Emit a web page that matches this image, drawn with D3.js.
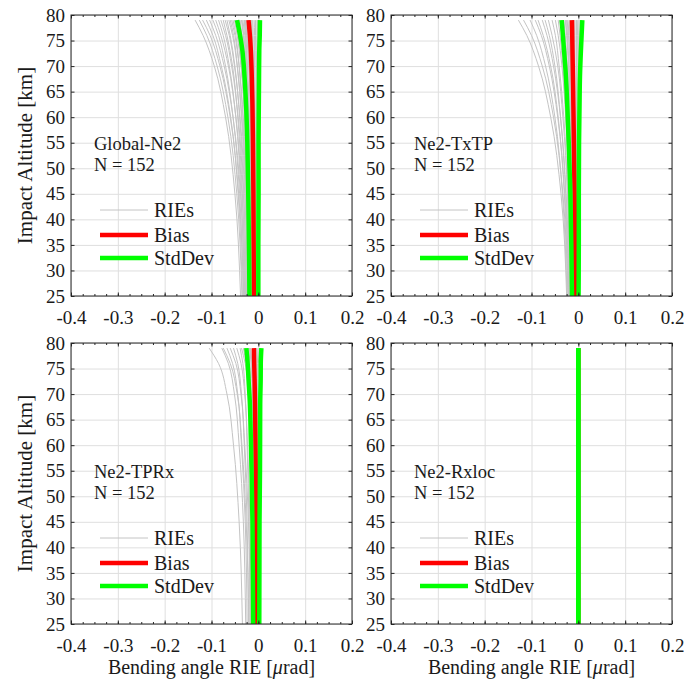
<!DOCTYPE html>
<html>
<head>
<meta charset="utf-8">
<script src="https://cdn.jsdelivr.net/npm/d3@7"></script>
<style>
  body { margin: 0; background: #fff; }
  svg text { font-family: "Liberation Serif", "Times New Roman", serif; fill: #1a1a1a; }
</style>
</head>
<body>
<svg id="fig" width="684" height="683"></svg>
<script>
// ---- axis ticks ----
const xTicks = [-0.4, -0.3, -0.2, -0.1, 0, 0.1, 0.2];
const yTicks = [25, 30, 35, 40, 45, 50, 55, 60, 65, 70, 75, 80];

// ---- altitude levels (km) of the stored profiles ----
const rieAlt = [25, 45, 60, 70, 76, 79];
const statAlt = [25, 35, 45, 55, 62, 68, 73, 76, 79];

// ---- panel titles and sample counts ----
const panelNames = ["Global-Ne2", "Ne2-TxTP", "Ne2-TPRx", "Ne2-Rxloc"];
const sampleCounts = [152, 152, 152, 152];

// ---- individual RIE profiles (µrad), one row per profile, at rieAlt ----
const riesGlobal = [
  [-0.038, -0.050, -0.070, -0.094, -0.118, -0.135],
  [-0.035, -0.046, -0.065, -0.088, -0.110, -0.126],
  [-0.031, -0.042, -0.060, -0.082, -0.103, -0.119],
  [-0.034, -0.043, -0.059, -0.079, -0.097, -0.111],
  [-0.029, -0.038, -0.054, -0.073, -0.091, -0.104],
  [-0.032, -0.040, -0.054, -0.070, -0.085, -0.097],
  [-0.027, -0.035, -0.048, -0.064, -0.080, -0.091],
  [-0.030, -0.037, -0.048, -0.062, -0.075, -0.085],
  [-0.025, -0.032, -0.043, -0.057, -0.070, -0.080],
  [-0.028, -0.034, -0.044, -0.055, -0.067, -0.075],
  [-0.023, -0.029, -0.039, -0.051, -0.062, -0.071],
  [-0.026, -0.031, -0.040, -0.050, -0.060, -0.067],
  [-0.021, -0.026, -0.035, -0.045, -0.055, -0.063],
  [-0.024, -0.028, -0.036, -0.045, -0.053, -0.060],
  [-0.019, -0.024, -0.032, -0.041, -0.050, -0.057],
  [-0.022, -0.026, -0.033, -0.041, -0.048, -0.054],
  [-0.018, -0.022, -0.029, -0.037, -0.045, -0.051],
  [-0.020, -0.023, -0.029, -0.036, -0.043, -0.048],
  [-0.016, -0.020, -0.026, -0.033, -0.041, -0.046],
  [-0.019, -0.022, -0.027, -0.034, -0.040, -0.044],
  [-0.020, -0.023, -0.029, -0.036, -0.042, -0.047],
  [-0.017, -0.020, -0.025, -0.032, -0.038, -0.042],
  [-0.017, -0.020, -0.025, -0.030, -0.036, -0.040],
  [-0.014, -0.017, -0.022, -0.029, -0.035, -0.039],
  [-0.016, -0.018, -0.023, -0.028, -0.032, -0.036],
  [-0.012, -0.015, -0.020, -0.025, -0.031, -0.035],
  [-0.013, -0.015, -0.020, -0.025, -0.029, -0.033],
  [-0.014, -0.016, -0.019, -0.023, -0.027, -0.030],
  [-0.015, -0.017, -0.020, -0.024, -0.027, -0.030],
  [-0.010, -0.012, -0.016, -0.020, -0.025, -0.028],
  [-0.011, -0.013, -0.016, -0.020, -0.024, -0.027],
  [-0.013, -0.014, -0.017, -0.019, -0.022, -0.024],
  [-0.009, -0.010, -0.013, -0.016, -0.019, -0.021],
  [-0.008, -0.009, -0.012, -0.014, -0.017, -0.019],
  [-0.011, -0.012, -0.013, -0.015, -0.017, -0.018],
  [-0.007, -0.008, -0.010, -0.012, -0.014, -0.015],
  [-0.006, -0.007, -0.009, -0.011, -0.013, -0.014],
  [-0.009, -0.009, -0.010, -0.011, -0.011, -0.012],
  [-0.006, -0.006, -0.007, -0.008, -0.008, -0.009],
  [-0.008, -0.008, -0.007, -0.007, -0.006, -0.006],
  [-0.005, -0.005, -0.004, -0.004, -0.003, -0.003],
  [-0.003, -0.003, -0.003, -0.002, -0.002, -0.001],
  [-0.006, -0.005, -0.004, -0.003, -0.001, 0.000],
  [-0.004, -0.003, -0.002, 0.000, 0.002, 0.003]
];
const riesTxTP = [
  [-0.025, -0.037, -0.059, -0.085, -0.110, -0.128],
  [-0.022, -0.033, -0.053, -0.077, -0.100, -0.117],
  [-0.024, -0.034, -0.050, -0.070, -0.089, -0.103],
  [-0.020, -0.029, -0.044, -0.062, -0.079, -0.092],
  [-0.022, -0.030, -0.043, -0.059, -0.075, -0.086],
  [-0.019, -0.026, -0.038, -0.053, -0.067, -0.077],
  [-0.021, -0.027, -0.038, -0.050, -0.062, -0.071],
  [-0.017, -0.023, -0.033, -0.044, -0.056, -0.064],
  [-0.019, -0.023, -0.031, -0.041, -0.049, -0.056],
  [-0.016, -0.020, -0.027, -0.035, -0.043, -0.049],
  [-0.018, -0.021, -0.026, -0.033, -0.039, -0.043],
  [-0.014, -0.017, -0.023, -0.029, -0.035, -0.040],
  [-0.016, -0.019, -0.023, -0.028, -0.033, -0.037],
  [-0.015, -0.017, -0.021, -0.026, -0.031, -0.035],
  [-0.013, -0.016, -0.020, -0.025, -0.030, -0.034],
  [-0.012, -0.014, -0.019, -0.024, -0.029, -0.033],
  [-0.015, -0.017, -0.020, -0.024, -0.028, -0.031],
  [-0.012, -0.014, -0.017, -0.021, -0.025, -0.028],
  [-0.011, -0.013, -0.016, -0.020, -0.024, -0.027],
  [-0.013, -0.014, -0.017, -0.020, -0.023, -0.025],
  [-0.009, -0.011, -0.014, -0.017, -0.021, -0.024],
  [-0.010, -0.011, -0.014, -0.017, -0.020, -0.022],
  [-0.011, -0.012, -0.014, -0.016, -0.018, -0.019],
  [-0.008, -0.009, -0.011, -0.013, -0.015, -0.016],
  [-0.010, -0.010, -0.011, -0.012, -0.012, -0.013],
  [-0.006, -0.007, -0.008, -0.010, -0.011, -0.012],
  [-0.007, -0.007, -0.008, -0.009, -0.009, -0.010],
  [-0.008, -0.008, -0.008, -0.007, -0.007, -0.007],
  [-0.005, -0.005, -0.005, -0.004, -0.004, -0.004],
  [-0.004, -0.004, -0.004, -0.003, -0.003, -0.003],
  [-0.006, -0.005, -0.004, -0.003, -0.002, -0.001],
  [-0.003, -0.002, -0.001, 0.000, 0.001, 0.002],
  [-0.004, -0.003, -0.001, 0.001, 0.003, 0.005],
  [-0.002, -0.001, 0.001, 0.003, 0.005, 0.007]
];
const riesTPRx = [
  [-0.034, -0.041, -0.053, -0.067, -0.085, -0.105],
  [-0.027, -0.032, -0.041, -0.051, -0.064, -0.078],
  [-0.020, -0.026, -0.035, -0.045, -0.060, -0.075],
  [-0.024, -0.028, -0.036, -0.044, -0.055, -0.067],
  [-0.017, -0.021, -0.029, -0.037, -0.048, -0.060],
  [-0.021, -0.024, -0.030, -0.036, -0.044, -0.053],
  [-0.015, -0.018, -0.023, -0.029, -0.037, -0.046],
  [-0.018, -0.020, -0.024, -0.028, -0.033, -0.039],
  [-0.009, -0.012, -0.016, -0.021, -0.028, -0.036],
  [-0.012, -0.014, -0.017, -0.021, -0.026, -0.032],
  [-0.013, -0.014, -0.016, -0.019, -0.023, -0.030],
  [-0.014, -0.015, -0.018, -0.020, -0.024, -0.028],
  [-0.011, -0.012, -0.015, -0.018, -0.022, -0.027],
  [-0.010, -0.011, -0.014, -0.016, -0.020, -0.024],
  [-0.012, -0.013, -0.014, -0.016, -0.018, -0.020],
  [-0.007, -0.008, -0.010, -0.012, -0.015, -0.019],
  [-0.003, -0.005, -0.007, -0.010, -0.014, -0.018],
  [-0.009, -0.010, -0.011, -0.013, -0.015, -0.017],
  [-0.008, -0.009, -0.010, -0.012, -0.014, -0.016],
  [-0.010, -0.010, -0.011, -0.011, -0.011, -0.012],
  [-0.005, -0.005, -0.006, -0.007, -0.009, -0.011],
  [-0.006, -0.006, -0.007, -0.007, -0.007, -0.008],
  [-0.007, -0.007, -0.006, -0.006, -0.005, -0.004],
  [-0.004, -0.004, -0.003, -0.003, -0.002, -0.001],
  [-0.005, -0.004, -0.003, -0.002, 0.000, 0.002],
  [-0.002, -0.001, 0.000, 0.001, 0.003, 0.005]
];
const riesRxloc = [
  [0, 0, 0, 0, 0, 0]
];

// ---- bias and standard deviation (µrad) at statAlt ----
const biasGlobal = [-0.0095, -0.0100, -0.0105, -0.0115, -0.0125, -0.0140, -0.0160, -0.0180, -0.0210];
const stdGlobal  = [ 0.0095,  0.0100,  0.0110,  0.0120,  0.0135,  0.0155,  0.0180,  0.0210,  0.0245];
const biasTxTP   = [-0.0065, -0.0070, -0.0080, -0.0095, -0.0105, -0.0115, -0.0125, -0.0130, -0.0135];
const stdTxTP    = [ 0.0070,  0.0080,  0.0090,  0.0110,  0.0130,  0.0150,  0.0180,  0.0200,  0.0220];
const biasTPRx   = [-0.0045, -0.0047, -0.0050, -0.0055, -0.0062, -0.0070, -0.0080, -0.0088, -0.0095];
const stdTPRx    = [ 0.0065,  0.0070,  0.0075,  0.0090,  0.0100,  0.0110,  0.0130,  0.0140,  0.0160];
const biasRxloc  = [0, 0, 0, 0, 0, 0, 0, 0, 0];
const stdRxloc   = [0, 0, 0, 0, 0, 0, 0, 0, 0];

const panels = [
  { name: panelNames[0], n: sampleCounts[0], ries: riesGlobal, bias: biasGlobal, std: stdGlobal },
  { name: panelNames[1], n: sampleCounts[1], ries: riesTxTP,   bias: biasTxTP,   std: stdTxTP },
  { name: panelNames[2], n: sampleCounts[2], ries: riesTPRx,   bias: biasTPRx,   std: stdTPRx },
  { name: panelNames[3], n: sampleCounts[3], ries: riesRxloc,  bias: biasRxloc,  std: stdRxloc }
];

// ---- layout ----
const FONT = '"Liberation Serif", "Times New Roman", serif';
const W = 281, H = 281;
const origins = [[71, 15], [391, 15], [71, 343], [391, 343]];
const axisColor = "#262626";
const textColor = "#1a1a1a";
const gridColor = "#dfdfdf";
const rieColor = "#c4c4c4";
const biasColor = "#ff0000";
const stdColor = "#00ff00";
const thick = 4.5;

const x = d3.scaleLinear().domain([-0.4, 0.2]).range([0, W]);
const y = d3.scaleLinear().domain([25, 80]).range([H, 0]);
const minorX = d3.range(-0.4, 0.2001, 0.025).map(v => +v.toFixed(3));

const profile = d3.line()
  .x(d => x(d[0]))
  .y(d => y(d[1]))
  .curve(d3.curveMonotoneY);

const svg = d3.select("#fig").attr("font-family", FONT);

panels.forEach((p, i) => {
  const [ox, oy] = origins[i];
  const g = svg.append("g").attr("transform", `translate(${ox},${oy})`);

  g.append("rect").attr("width", W).attr("height", H).attr("fill", "#fff");

  // grid
  g.append("g").attr("transform", `translate(0,${H})`)
    .call(d3.axisBottom(x).tickValues(xTicks).tickSize(-H).tickFormat(""))
    .call(s => s.select(".domain").remove())
    .call(s => s.selectAll("line").attr("stroke", gridColor).attr("stroke-width", 1));
  g.append("g")
    .call(d3.axisLeft(y).tickValues(yTicks).tickSize(-W).tickFormat(""))
    .call(s => s.select(".domain").remove())
    .call(s => s.selectAll("line").attr("stroke", gridColor).attr("stroke-width", 1));

  const clip = `clip${i}`;
  g.append("clipPath").attr("id", clip).append("rect").attr("width", W).attr("height", H);
  const plot = g.append("g").attr("clip-path", `url(#${clip})`);

  // individual profiles
  p.ries.forEach(row => {
    plot.append("path")
      .datum(row.map((v, k) => [v, rieAlt[k]]))
      .attr("d", profile)
      .attr("fill", "none").attr("stroke", rieColor).attr("stroke-width", 1);
  });

  // bias
  plot.append("path")
    .datum(p.bias.map((v, k) => [v, statAlt[k]]))
    .attr("d", profile)
    .attr("fill", "none").attr("stroke", biasColor).attr("stroke-width", thick);

  // bias +/- standard deviation
  [-1, 1].forEach(sgn => {
    plot.append("path")
      .datum(p.bias.map((v, k) => [v + sgn * p.std[k], statAlt[k]]))
      .attr("d", profile)
      .attr("fill", "none").attr("stroke", stdColor).attr("stroke-width", thick);
  });

  // tick marks, inward, on all four sides
  const styleTicks = s => {
    s.select(".domain").remove();
    s.selectAll("line").attr("stroke", axisColor).attr("stroke-width", 1);
  };
  g.append("g").attr("transform", `translate(0,${H})`)
    .call(d3.axisBottom(x).tickValues(minorX).tickSizeInner(-2).tickSizeOuter(0).tickFormat(""))
    .call(styleTicks);
  g.append("g")
    .call(d3.axisTop(x).tickValues(minorX).tickSizeInner(-2).tickSizeOuter(0).tickFormat(""))
    .call(styleTicks);
  g.append("g").attr("transform", `translate(0,${H})`)
    .call(d3.axisBottom(x).tickValues(xTicks).tickSizeInner(-3.5).tickSizeOuter(0).tickFormat(""))
    .call(styleTicks);
  g.append("g")
    .call(d3.axisTop(x).tickValues(xTicks).tickSizeInner(-3.5).tickSizeOuter(0).tickFormat(""))
    .call(styleTicks);
  g.append("g")
    .call(d3.axisLeft(y).tickValues(yTicks).tickSizeInner(-3.5).tickSizeOuter(0).tickFormat(""))
    .call(styleTicks);
  g.append("g").attr("transform", `translate(${W},0)`)
    .call(d3.axisRight(y).tickValues(yTicks).tickSizeInner(-3.5).tickSizeOuter(0).tickFormat(""))
    .call(styleTicks);

  // tick labels
  const styleLabels = s => {
    s.attr("font-family", FONT).attr("font-size", 19);
    s.select(".domain").remove();
    s.selectAll("text").attr("fill", textColor).attr("font-family", FONT).attr("font-size", 19);
  };
  g.append("g").attr("transform", `translate(0,${H})`)
    .call(d3.axisBottom(x).tickValues(xTicks).tickSize(0).tickPadding(15).tickFormat(d => String(d)))
    .call(styleLabels);
  g.append("g")
    .call(d3.axisLeft(y).tickValues(yTicks).tickSize(0).tickPadding(6).tickFormat(d => String(d)))
    .call(styleLabels);

  // box
  g.append("rect").attr("width", W).attr("height", H)
    .attr("fill", "none").attr("stroke", axisColor).attr("stroke-width", 1);

  // panel annotation
  const ann = g.append("text").attr("x", 23).attr("y", 135)
    .attr("font-family", FONT).attr("font-size", 18.5);
  ann.append("tspan").attr("x", 23).text(p.name);
  ann.append("tspan").attr("x", 23).attr("dy", 20.5).text(`N = ${p.n}`);

  // legend
  const legend = [
    { label: "RIEs", color: rieColor, width: 1, dy: 195 },
    { label: "Bias", color: biasColor, width: thick, dy: 220 },
    { label: "StdDev", color: stdColor, width: thick, dy: 243 }
  ];
  legend.forEach(it => {
    g.append("line").attr("x1", 29).attr("x2", 77).attr("y1", it.dy).attr("y2", it.dy)
      .attr("stroke", it.color).attr("stroke-width", it.width);
    g.append("text").attr("x", 83).attr("y", it.dy + 6.5)
      .attr("font-family", FONT).attr("font-size", 20).text(it.label);
  });

  // axis titles
  if (i % 2 === 0) {
    g.append("text")
      .attr("transform", `translate(${25 - ox},${H / 2}) rotate(-90)`)
      .attr("text-anchor", "middle").attr("dominant-baseline", "central")
      .attr("font-family", FONT).attr("font-size", 21)
      .text("Impact Altitude [km]");
  }
  if (i >= 2) {
    const t = g.append("text")
      .attr("x", W / 2).attr("y", 331)
      .attr("text-anchor", "middle")
      .attr("font-family", FONT).attr("font-size", 20);
    t.append("tspan").text("Bending angle RIE [");
    t.append("tspan").attr("font-style", "italic").text("μ");
    t.append("tspan").text("rad]");
  }
});
</script>
</body>
</html>
